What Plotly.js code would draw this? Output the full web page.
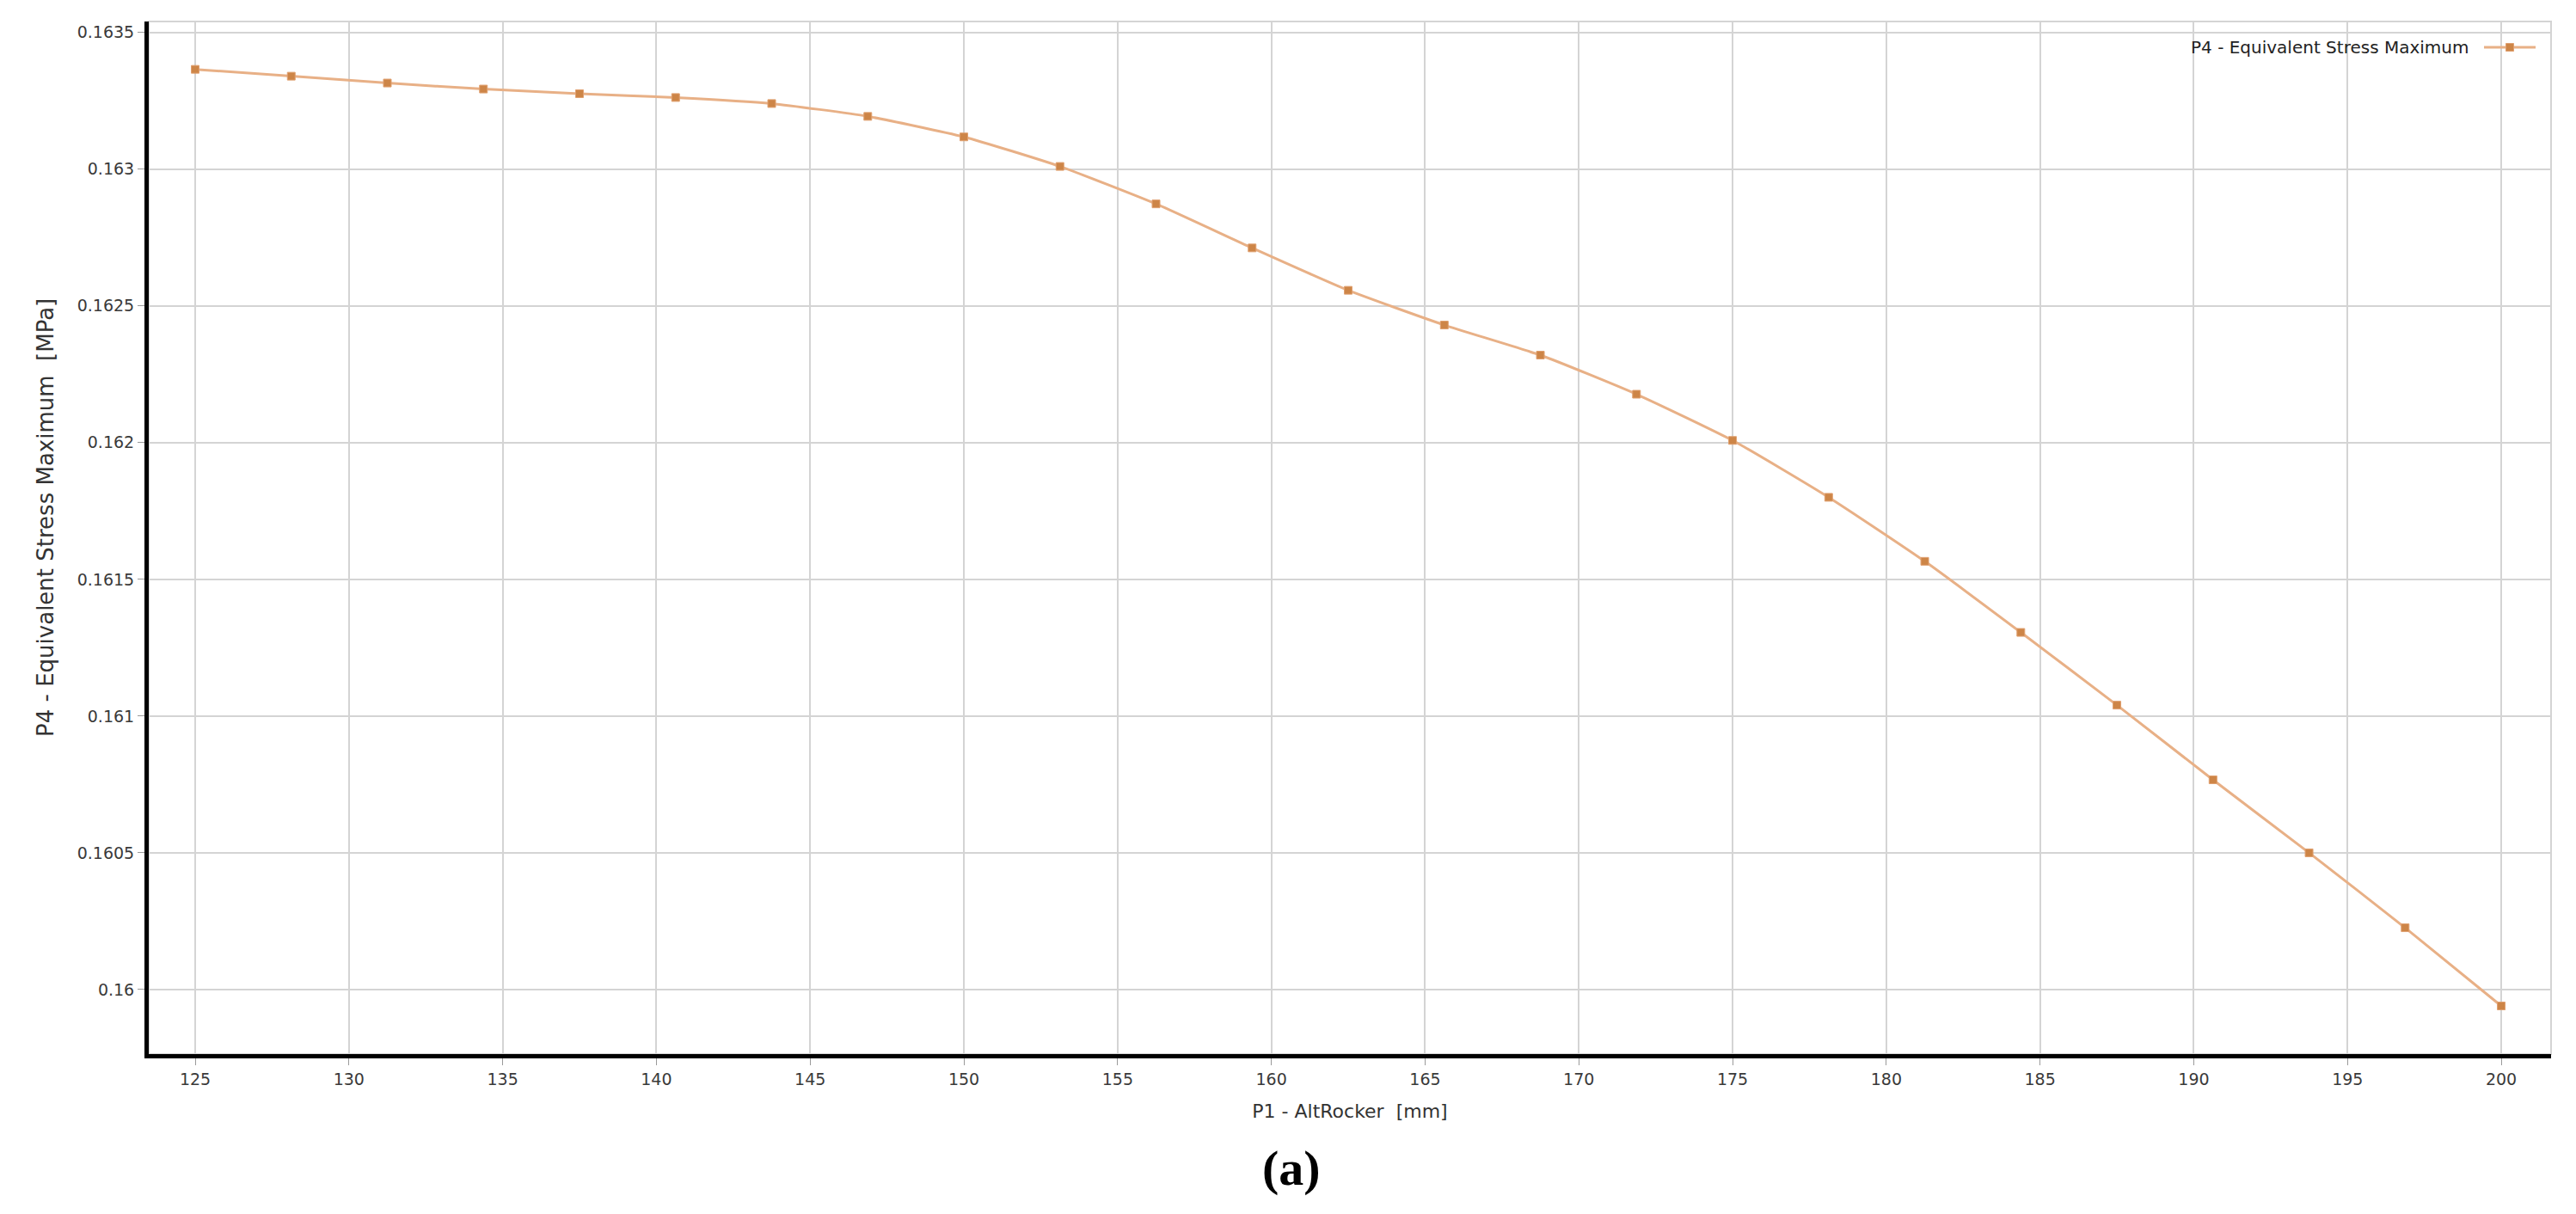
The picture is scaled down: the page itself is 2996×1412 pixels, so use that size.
<!DOCTYPE html>
<html>
<head>
<meta charset="utf-8">
<script src="https://cdn.plot.ly/plotly-3.0.1.min.js"></script>
<style>
  html, body { margin: 0; padding: 0; background: #ffffff; }
  #chart { width: 2996px; height: 1412px; }
</style>
</head>
<body>
<div id="chart"></div>
<script>
// ---- data ----
const seriesName = "P4 - Equivalent Stress Maximum";
const altRocker = [125, 128.125, 131.25, 134.375, 137.5, 140.625, 143.75, 146.875, 150,
  153.125, 156.25, 159.375, 162.5, 165.625, 168.75, 171.875, 175,
  178.125, 181.25, 184.375, 187.5, 190.625, 193.75, 196.875, 200];
const stressMax = [0.163365, 0.163340, 0.163315, 0.163293, 0.163276, 0.163262, 0.163240, 0.163193, 0.163118,
  0.163010, 0.162873, 0.162712, 0.162557, 0.162430, 0.162320, 0.162177, 0.162008,
  0.161800, 0.161566, 0.161306, 0.161040, 0.160767, 0.160500, 0.160226, 0.159940];
const xTickVals = [125, 130, 135, 140, 145, 150, 155, 160, 165, 170, 175, 180, 185, 190, 195, 200];
const yTickVals = [0.16, 0.1605, 0.161, 0.1615, 0.162, 0.1625, 0.163, 0.1635];
const yTickText = ["0.16", "0.1605", "0.161", "0.1615", "0.162", "0.1625", "0.163", "0.1635"];
const xTitle = "P1 - AltRocker  [mm]";
const yTitle = "P4 - Equivalent Stress Maximum  [MPa]";
const panelLabel = "(a)";

const tickFont = { family: "DejaVu Sans", size: 19, color: "#3a3a3a" };

const trace = {
  x: altRocker,
  y: stressMax,
  type: "scatter",
  mode: "lines+markers",
  name: " ",
  showlegend: true,
  line: { color: "#E8B086", width: 3, shape: "spline", smoothing: 0.5 },
  marker: { symbol: "square", size: 9, color: "#CD8547", line: { color: "#E0A070", width: 1 } }
};

const layout = {
  width: 2996,
  height: 1412,
  paper_bgcolor: "#ffffff",
  plot_bgcolor: "#ffffff",
  margin: { l: 173, r: 29, t: 25, b: 186, pad: 0 },
  showlegend: true,
  legend: {
    x: 0.9703, xanchor: "left", xref: "paper",
    y: 0.975, yanchor: "middle", yref: "paper",
    bgcolor: "rgba(0,0,0,0)",
    itemwidth: 60,
    font: { family: "DejaVu Sans", size: 20, color: "#222" }
  },
  xaxis: {
    range: [123.49, 201.62],
    tickvals: xTickVals,
    showgrid: true, gridcolor: "#d4d4d4", gridwidth: 2,
    zeroline: false,
    showline: true, linecolor: "#000000", linewidth: 5,
    ticks: "outside", ticklen: 8, tickcolor: "#9a9a9a", tickwidth: 1,
    tickfont: tickFont,
    title: { text: xTitle, font: { family: "DejaVu Sans", size: 22, color: "#333" }, standoff: 21 },
    automargin: false, fixedrange: true
  },
  yaxis: {
    range: [0.159764, 0.16354],
    tickvals: yTickVals,
    ticktext: yTickText,
    showgrid: true, gridcolor: "#d4d4d4", gridwidth: 2,
    zeroline: false,
    showline: true, linecolor: "#000000", linewidth: 5,
    ticks: "outside", ticklen: 8, tickcolor: "#9a9a9a", tickwidth: 1,
    tickfont: tickFont,
    automargin: false, fixedrange: true
  },
  shapes: [
    { type: "rect", xref: "paper", yref: "paper", x0: 0, x1: 1, y0: 0, y1: 1,
      line: { color: "#d4d4d4", width: 2 }, layer: "below" }
  ],
  annotations: [
    { text: seriesName, xref: "paper", yref: "paper", x: 0.9664, y: 0.975,
      xanchor: "right", yanchor: "middle", showarrow: false,
      font: { family: "DejaVu Sans", size: 20, color: "#222" } },
    { text: yTitle, xref: "paper", yref: "paper", x: -0.04295, y: 0.5196,
      xanchor: "center", yanchor: "middle", textangle: -90, showarrow: false,
      font: { family: "DejaVu Sans", size: 26, color: "#333" } },
    { text: "<b>" + panelLabel + "</b>", xref: "paper", yref: "paper", x: 0.4757, y: -0.110,
      xanchor: "center", yanchor: "middle", showarrow: false,
      font: { family: "Liberation Serif", size: 58, color: "#000" } }
  ]
};

Plotly.newPlot("chart", [trace], layout, { staticPlot: true, displayModeBar: false });
</script>
</body>
</html>
